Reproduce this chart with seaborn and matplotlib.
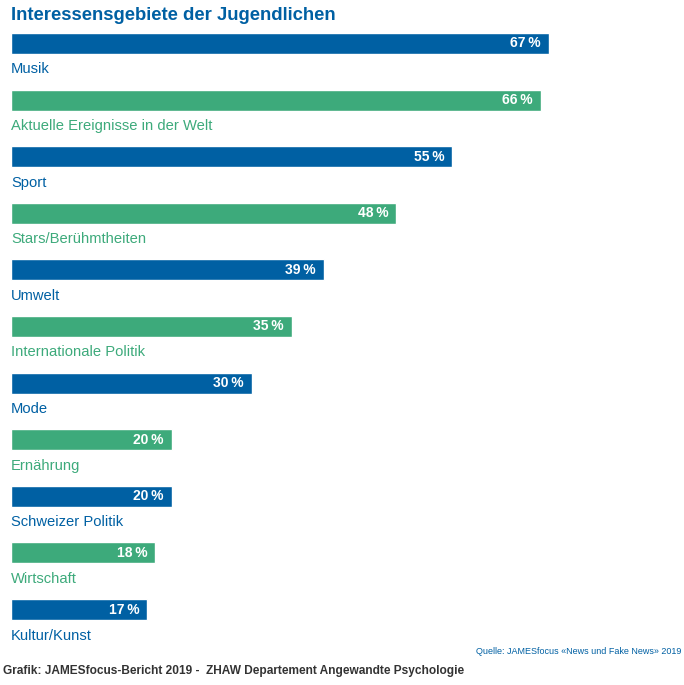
import pandas as pd
import matplotlib.pyplot as plt
import seaborn as sns

# Data
categories = ['Musik', 'Aktuelle Ereignisse in der Welt', 'Sport', 'Stars/Berühmtheiten',
              'Umwelt', 'Internationale Politik', 'Mode', 'Ernährung',
              'Schweizer Politik', 'Wirtschaft', 'Kultur/Kunst']
values = [67, 66, 55, 48, 39, 35, 30, 20, 20, 18, 17]

blue = '#0060A3'
green = '#3DAA7B'
colors = [blue if i % 2 == 0 else green for i in range(len(categories))]

df = pd.DataFrame({'Kategorie': categories, 'Anteil': values})

sns.set_style('white')
plt.rcParams['font.family'] = ['Liberation Sans', 'DejaVu Sans']

fig = plt.figure(figsize=(6.84, 6.85), dpi=100)
ax = fig.add_axes([11 / 684, 0.0689, 642 / 684, 0.909])

sns.barplot(data=df, y='Kategorie', x='Anteil', hue='Kategorie', palette=colors,
            orient='h', width=0.37, legend=False, ax=ax, saturation=1)

ax.set_xlim(0, 80)
ax.set_ylim(len(categories) - 0.5, -0.5)
ax.axis('off')

for i, (cat, val) in enumerate(zip(categories, values)):
    ax.annotate(f'{val}\u2009%', xy=(val, i), xytext=(-8, 0), textcoords='offset pixels',
                ha='right', va='center', color='white', fontsize=10, fontweight='bold')
    ax.annotate(cat, xy=(0, i), xytext=(0, -26), textcoords='offset pixels',
                ha='left', va='center', color=colors[i], fontsize=10.6)

fig.text(11 / 684, 1 - 15 / 685, 'Interessensgebiete der Jugendlichen', ha='left', va='center',
         color=blue, fontsize=13.3, fontweight='bold')
fig.text(681 / 684, 1 - 651 / 685, 'Quelle: JAMESfocus «News und Fake News» 2019', ha='right',
         va='center', color=blue, fontsize=6.5)
fig.text(3 / 684, 1 - 671 / 685,
         'Grafik: JAMESfocus-Bericht 2019 -  ZHAW Departement Angewandte Psychologie',
         ha='left', va='center', color='#333333', fontsize=8.6, fontweight='bold')

fig.savefig('out.png', dpi=100)
